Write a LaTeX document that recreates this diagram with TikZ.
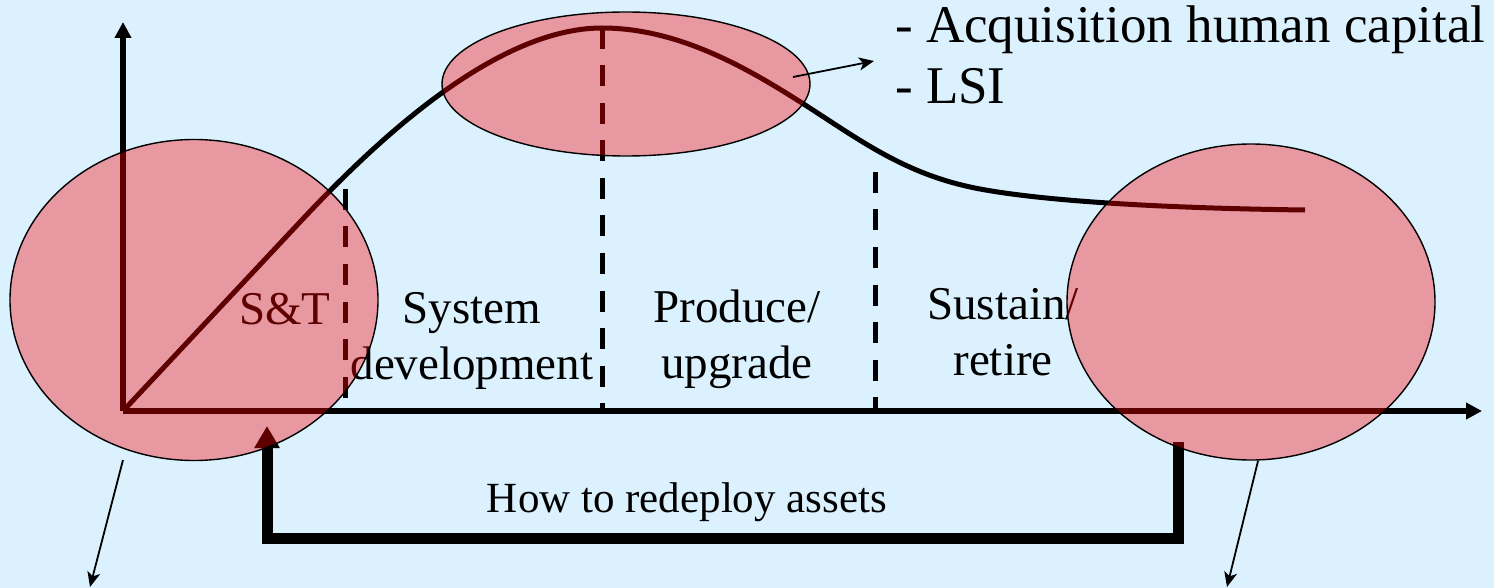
\documentclass[tikz,border=0pt]{standalone}
\usepackage{fontspec}
\setmainfont{Liberation Serif}
\usetikzlibrary{arrows.meta,shapes.geometric}

\definecolor{bgblue}{RGB}{219,241,254}

\tikzset{
  axis/.style={line width=5.5pt, -{Triangle[length=16pt,width=16pt]}},
  lifecurve/.style={line width=5pt},
  phasesep/.style={line width=5pt, dash pattern=on 21pt off 16.5pt},
  phaselabel/.style={inner sep=0pt, align=center, font=\fontsize{47}{56}\selectfont},
  zone/.style={ellipse, draw=black, line width=1.4pt, fill=red, fill opacity=0.37,
               draw opacity=1, inner sep=0pt, minimum width=368pt},
  pointer/.style={line width=1.8pt, -{Stealth[length=15pt,width=13pt,inset=4pt]}},
  loopback/.style={line width=11pt, -{Triangle[length=22pt,width=24pt]}}
}

\begin{document}
\begin{tikzpicture}[x=1pt,y=-1pt]
  % canvas
  \fill[bgblue] (0,0) rectangle (1494,588);
  \useasboundingbox (0,0) rectangle (1494,588);

  % axes
  \coordinate (O) at (123,411);
  \coordinate (Ytop) at (123,22);
  \coordinate (Xend) at (1482,411);

  % life-cycle curve: rise, peak, decline, plateau
  \coordinate (c0) at (123,411);
  \coordinate (c1) at (300,222);
  \coordinate (c2) at (602,28);
  \coordinate (c3) at (802,103);
  \coordinate (c4) at (980,189);
  \coordinate (c5) at (1305,210);
  \draw[lifecurve] (c0) -- (c1)
    .. controls (368.4,149) and (492,28) .. (c2)
    .. controls (680,28) and (750,70) .. (c3)
    .. controls (860,140) and (905,175) .. (c4)
    .. controls (1040,200.2) and (1150,208) .. (c5);

  \draw[axis] (O) -- (Ytop);
  \draw[axis] (O) -- (Xend);

  % phase separators
  \coordinate (s1top) at (345,189);  \coordinate (s1bot) at (345,411);
  \coordinate (s2top) at (602,28);   \coordinate (s2bot) at (602,411);
  \coordinate (s3top) at (875,172);  \coordinate (s3bot) at (875,411);
  \draw[phasesep] (s1top) -- (s1bot);
  \draw[phasesep] (s2top) -- (s2bot);
  \draw[phasesep] (s3top) -- (s3bot);

  % phase labels
  \node[phaselabel, anchor=base] (st) at (285,324) {S\&T};
  \node[phaselabel] (sysdev) at (472,341) {System\\development};
  \node[phaselabel] (produce) at (737,339) {Produce/\\upgrade};
  \node[phaselabel] (sustain) at (1003,332) {Sustain/\\retire};

  % redeployment loop
  \coordinate (rdStart) at (1178,442);
  \coordinate (rdCornerR) at (1178,538);
  \coordinate (rdCornerL) at (267,538);
  \coordinate (rdEnd) at (267,426);
  \draw[loopback] (rdStart) -- (rdCornerR) -- (rdCornerL) -- (rdEnd);
  \node[inner sep=0pt, anchor=base, font=\fontsize{43}{50}\selectfont]
    (redeploy) at (687,512) {How to redeploy assets};

  % highlighted zones
  \node[zone, minimum height=321pt] (zoneST) at (194,300) {};
  \node[zone, minimum height=144pt] (zonePeak) at (626,84) {};
  \node[zone, minimum height=316pt] (zoneRetire) at (1251,302) {};

  % annotation for the peak
  \node[inner sep=0pt, anchor=north west, align=left, font=\fontsize{53}{61}\selectfont]
    (notes) at (895,6) {- Acquisition human capital\\- LSI};
  \coordinate (pk1) at (793,77);
  \coordinate (pk2) at (874,61);
  \draw[pointer] (pk1) -- (pk2);

  % downward pointers
  \coordinate (l1) at (123,460);
  \coordinate (l2) at (90,587);
  \draw[pointer] (l1) -- (l2);
  \coordinate (r1) at (1258,461);
  \coordinate (r2) at (1227,587);
  \draw[pointer] (r1) -- (r2);
\end{tikzpicture}
\end{document}
